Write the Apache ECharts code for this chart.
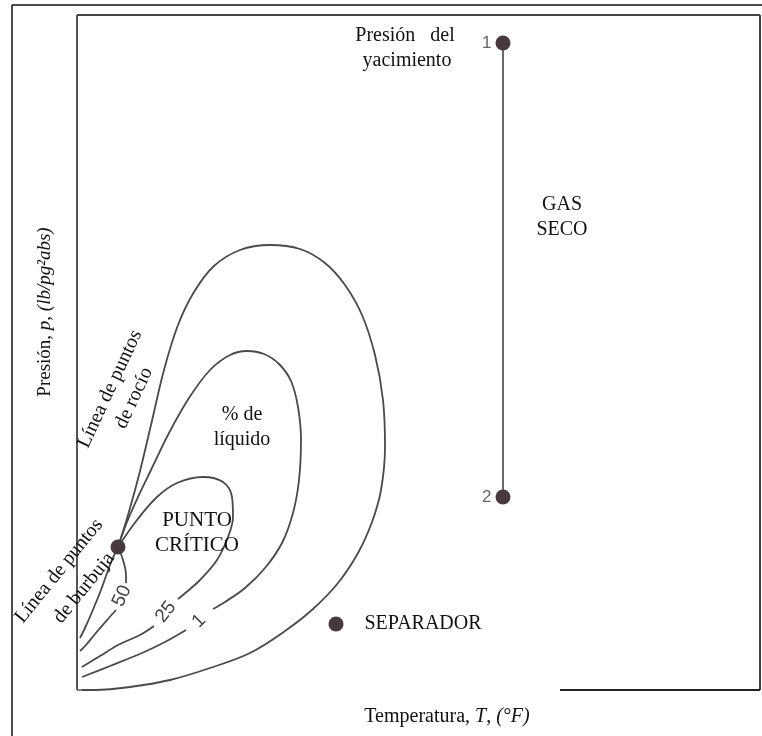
<!DOCTYPE html>
<html>
<head>
<meta charset="utf-8">
<script src="https://cdn.jsdelivr.net/npm/echarts@6/dist/echarts.min.js"></script>
<style>
html,body{margin:0;padding:0;background:#fff;}
#chart{width:762px;height:736px;}
</style>
</head>
<body>
<div id="chart"></div>
<script>
// Temperature / pressure in arbitrary diagram units (no numeric scale in the original)
const xRange = [0, 683];
const yRange = [0, 675];

// Envelope: dew-point line + outer loop (0 % liquid)
const dewLine = [[41,143],[51,175],[62,215],[74,265],[87,320],[101,365],[117,398],[137,424],[163,440],[193,445],[223,441],[248,427],[268,405],[285,375],[298,335],[306,290],[308,243],[304,200],[295,168],[281,137],[261,107],[236,81],[208,59],[173,37],[133,22],[93,10],[53,3],[18,0],[5,0]];
// Bubble-point line (100 % liquid)
const bubbleLine = [[41,143],[33,125],[24,100],[15,78],[8,62],[3,52]];
// Quality lines
const line50a = [[41,143],[46,130],[49,115],[49,107]];
const line50b = [[39,80],[31,71],[18,56],[9,45],[3,39]];
const line25a = [[41,143],[60,170],[80,193],[100,207],[126,213],[146,208],[155,193],[156,173],[151,153],[140,130],[123,110],[106,95],[101,91]];
const line25b = [[77,64],[63,55],[41,45],[23,34],[5,23]];
const line1a = [[41,143],[50,168],[61,193],[74,220],[92,257],[112,292],[133,320],[153,335],[170,339],[187,336],[202,326],[214,309],[221,283],[224,250],[222,210],[216,177],[205,147],[188,122],[168,102],[148,88],[136,81]];
const line1b = [[109,60],[88,48],[65,37],[33,24],[5,13]];
// Reservoir path 1 -> 2 (isothermal depletion)
const pathLabels = ['1', '2'];
const reservoirPath = [[426,647],[426,193]];
const separator = [259,66];
const criticalPoint = [41,143];

const curveColor = '#4a4a4a';
const serifFont = '"Liberation Serif","Times New Roman",serif';
const sansFont = '"Liberation Sans",Arial,sans-serif';

function curve(data){
  return {type:'line', data:data, smooth:0.35, symbol:'none', clip:false,
    lineStyle:{color:curveColor, width:1.8}, silent:true, z:2};
}

const chart = echarts.init(document.getElementById('chart'));
const txt = (text, x, y, rot, size) => ({
  type:'text', x:x, y:y, rotation:(rot||0)*Math.PI/180, z:10, silent:true,
  style:{text:text, fill:'#111', font:(size||20)+'px '+serifFont, align:'center', verticalAlign:'middle'}
});
const num = (text, x, y, rot) => ({type:'text', x:x, y:y, rotation:rot*Math.PI/180, z:10, silent:true,
  style:{text:text, fill:'#444', font:'19px '+sansFont, align:'center', verticalAlign:'middle'}});
const ln = (x1,y1,x2,y2,c,w) => ({type:'line', silent:true, z:5,
  shape:{x1:x1,y1:y1,x2:x2,y2:y2}, style:{stroke:c, lineWidth:w}});

chart.setOption({
  animation:false,
  backgroundColor:'#fff',
  grid:{left:77, top:15, width:683, height:675},
  xAxis:{type:'value', min:xRange[0], max:xRange[1], show:false},
  yAxis:{type:'value', min:yRange[0], max:yRange[1], show:false},
  series:[
    curve(dewLine), curve(bubbleLine), curve(line50a), curve(line50b),
    curve(line25a), curve(line25b), curve(line1a), curve(line1b),
    {type:'line', data:reservoirPath, symbol:'none', lineStyle:{color:'#6a6a6a', width:2}, z:3, silent:true},
    {type:'scatter', symbolSize:15, itemStyle:{color:'#463a3c', opacity:1}, z:4, silent:true,
      data: reservoirPath.map((p,i)=>({value:p, label:{show:true, formatter:pathLabels[i], position:'left', distance:4,
        color:'#666', fontFamily:sansFont, fontSize:17}}))
        .concat([
          {value:separator, label:{show:true, formatter:'SEPARADOR', position:'right', distance:21,
            color:'#111', fontFamily:serifFont, fontSize:20}},
          {value:criticalPoint}
        ])
    }
  ],
  graphic:[
    ln(12,5,762,5,'#111',1.5),
    ln(12,5,12,736,'#111',1.5),
    ln(77,15,760,15,'#444',2),
    ln(77,15,77,690,'#555',2),
    ln(760,15,760,690,'#444',2),
    ln(560,690,760,690,'#222',2),
    ln(77,690,82,690,'#555',1.5),
    txt('Presión   del', 405, 36),
    txt('yacimiento', 407, 61),
    txt('GAS', 562, 205),
    txt('SECO', 562, 230),
    txt('% de', 242, 415),
    txt('líquido', 242, 440),
    txt('PUNTO', 197, 520, 0, 21),
    txt('CRÍTICO', 197, 545, 0, 21),
    txt('Línea de puntos', 110, 389, 65),
    txt('de rocío', 134, 398, 65),
    txt('Línea de puntos', 59, 571, 51),
    txt('de burbuja', 84, 588, 51),
    num('50', 122, 596, 65),
    num('25', 166, 612, 52),
    num('1', 199, 621, 45),
    {type:'text', x:447, y:717, z:10, silent:true,
      style:{text:'{n|Temperatura, }{i|T}{n|, }{i|(°F)}', align:'center', verticalAlign:'middle',
        rich:{n:{font:'20px '+serifFont, fill:'#111'}, i:{font:'italic 20px '+serifFont, fill:'#111'}}}},
    {type:'text', x:45, y:312, rotation:Math.PI/2, z:10, silent:true,
      style:{text:'{n|Presión, }{i|p}{n|, }{i|(lb/pg²abs)}', align:'center', verticalAlign:'middle',
        rich:{n:{font:'19px '+serifFont, fill:'#111'}, i:{font:'italic 19px '+serifFont, fill:'#111'}}}}
  ]
});
</script>
</body>
</html>
